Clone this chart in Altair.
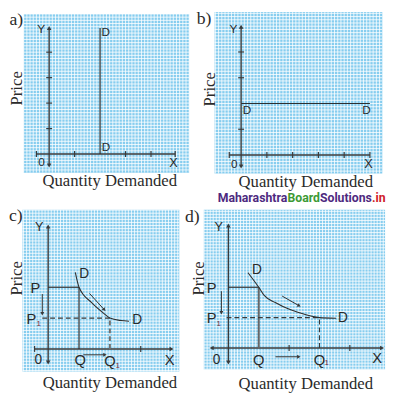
import math
import altair as alt
import numpy as np
import pandas as pd

# ---------------- colours / fonts ----------------
BG = "#86cdef"
AXC = "#3a3a3a"
TXT = "#2a2a2a"
SUBC = "#7a2840"
SANS = "Liberation Sans"
SERIF = "Liberation Serif"

# page frame of the drawing (page px), panel frames: origin (page px) and px per unit
PAGE = (8, 8, 398, 399)

# ---------------- panel a : perfectly inelastic ----------------
A_FRAME = (50, 153, 26.0)
A_PAPER = (-1.0, -0.73, 5.5, 5.5)
A_AXES = [(-0.5, 0, 4.95, 0), (0, -0.45, 0, 4.95)]
A_SOLID = [(2, 0, 2, 4.95)]
A_XTICKS = [-0.5, 1, 3, 4, 4.95]
A_YTICKS = [1, 2, 3, 4]
A_HEADS = [(0, 4.95, 0), (0, -0.45, 180)]
A_LABELS = [("Y", -0.31, 4.92, 12), ("X", 4.88, -0.35, 13), ("0", -0.3, -0.3, 12),
            ("D", 2.22, 4.77, 12), ("D", 2.23, 0.27, 12)]
A_CAPTION = [("a)", -1.29, 5.27), ("Price", -1.27, 2.58), ("Quantity Demanded", 2.38, -1.08)]

# ---------------- panel b : perfectly elastic ----------------
B_FRAME = (246, 154, 26.3)
B_PAPER = (-1.03, -0.72, 5.48, 5.55)
B_AXES = [(-0.46, 0, 5.0, 0), (0, -0.45, 0, 4.98)]
B_SOLID = [(0, 2, 5, 2)]
B_XTICKS = [-0.46, 1, 2, 3, 4, 5.0]
B_YTICKS = [1, 3, 4]
B_HEADS = [(0, 4.98, 0), (0, -0.45, 180)]
B_LABELS = [("Y", -0.3, 4.9, 12), ("X", 4.94, -0.34, 13), ("0", -0.27, -0.34, 12),
            ("D", 0.23, 1.75, 12), ("D", 4.87, 1.75, 12)]
B_CAPTION = [("b)", -1.44, 5.29), ("Price", -1.22, 2.55), ("Quantity Demanded", 2.51, -1.06)]
B_MARK_TEXT = ["Maharashtra", "Board", "Solutions", ".in"]
B_MARK_X = [-0.91, 1.80, 3.06, 5.08]
B_MARK_COLOR = ["#4e2a7f", "#3c9a34", "#4e2a7f", "#d0202a"]
B_MARK_Y = -1.66

# ---------------- panel c ----------------
C_FRAME = (49, 352, 31.5)
C_PAPER = (-0.83, -0.73, 4.25, 4.51)
C_AXES = [(-0.44, 0, 4.0, 0), (0, -0.44, 0, 3.97)]
C_SOLID = [(0, 2, 1, 2), (1, 0, 1, 2)]
C_DASHED = [(-0.19, 1, 2, 1)]
C_THICKDASH = [(2, 0, 2, 1)]
C_CURVE_X = [0.88, 1.0, 1.41, 1.83, 2.0, 2.36, 2.62]
C_CURVE_Y = [2.48, 2.0, 1.5, 1.13, 1.0, 0.92, 0.90]
C_XTICKS = [-0.44, 3]
C_HEADS = [(4.0, 0, 90), (0, 3.97, 0), (0, -0.44, 180)]
C_ARROWS = [(-0.19, 1.78, -0.19, 1.14), (1.14, -0.19, 1.84, -0.19), (1.34, 1.80, 1.82, 1.27)]
C_LABELS = [("Y", -0.29, 3.94, 13), ("P", -0.41, 1.97, 15), ("P", -0.54, 0.98, 15),
            ("D", 1.17, 2.44, 14), ("D", 2.89, 0.92, 14), ("0", -0.32, -0.35, 14),
            ("Q", 1.04, -0.35, 15), ("Q", 2.0, -0.38, 15), ("X", 3.94, -0.35, 15)]
C_SUBS = [("1", -0.31, 0.80), ("1", 2.25, -0.56)]
C_CAPTION = [("c)", -1.05, 4.29), ("Price", -1.02, 2.29), ("Quantity Demanded", 2.0, -1.11)]

# ---------------- panel d ----------------
D_FRAME = (233, 351, 31.0)
D_PAPER = (-0.81, -0.71, 5.16, 4.55)
D_AXES = [(-0.55, 0, 5.06, 0), (0, -0.48, 0, 4.03)]
D_SOLID = [(0, 2, 1, 2)]
D_THICK = [(1, 0, 1, 2)]
D_DASHED = [(-0.06, 1, 3, 1), (3, 0, 3, 1)]
D_CURVE_X = [0.645, 1.0, 1.18, 1.56, 1.99, 2.31, 3.0, 3.55]
D_CURVE_Y = [2.48, 2.0, 1.73, 1.49, 1.28, 1.17, 1.0, 0.98]
D_XTICKS = [2, 4]
D_HEADS = [(5.06, 0, 90), (-0.55, 0, 270), (0, 4.03, 0), (0, -0.48, 180)]
D_ARROWS = [(-0.23, 1.87, -0.23, 1.16), (1.55, -0.29, 2.32, -0.29), (1.77, 1.71, 2.33, 1.39)]
D_LABELS = [("Y", -0.32, 3.97, 13), ("P", -0.55, 1.97, 15), ("P", -0.55, 0.97, 15),
            ("D", 0.94, 2.55, 14), ("D", 3.77, 0.97, 14), ("0", -0.39, -0.39, 14),
            ("Q", 1.0, -0.39, 15), ("Q", 3.0, -0.39, 15), ("X", 4.9, -0.35, 15)]
D_SUBS = [("1", -0.32, 0.80), ("1", 3.24, -0.50)]
D_CAPTION = [("d)", -1.19, 4.32), ("Price", -0.97, 2.29), ("Quantity Demanded", 2.55, -1.19)]


def build(frame, paper, step, axes, solid=(), dashed=(), thick=(), thickdash=(), cx=(), cy=(),
          xticks=(), yticks=(), heads=(), arrows=(), labels=(), subs=(), caption=(), mark=None):
    ox, oy, unit = frame
    xs = alt.Scale(domain=[(PAGE[0] - ox) / unit, (PAGE[2] - ox) / unit], nice=False, zero=False)
    ys = alt.Scale(domain=[(oy - PAGE[3]) / unit, (oy - PAGE[1]) / unit], nice=False, zero=False)

    def X(f):
        return alt.X(f, type="quantitative", scale=xs, axis=None)

    def Y(f):
        return alt.Y(f, type="quantitative", scale=ys, axis=None)

    def segs(rows, color, width, dash=None, opacity=1.0):
        df = pd.DataFrame(list(rows), columns=["x", "y", "x2", "y2"])
        kw = dict(color=color, strokeWidth=width, opacity=opacity)
        if dash:
            kw["strokeDash"] = dash
        return alt.Chart(df).mark_rule(**kw).encode(x=X("x"), y=Y("y"), x2="x2", y2="y2")

    x0, y0, x1, y1 = paper
    paper_df = pd.DataFrame({"x": [x0], "y": [y0], "x2": [x1], "y2": [y1]})
    layers = [alt.Chart(paper_df).mark_rect(color=BG).encode(
        x=X("x"), y=Y("y"), x2="x2", y2="y2")]
    # fine graph-paper lines
    gl = []
    for v in np.arange(math.ceil(x0 / step) * step, x1 + 1e-9, step):
        gl.append((v, y0, v, y1))
    for v in np.arange(math.ceil(y0 / step) * step, y1 + 1e-9, step):
        gl.append((x0, v, x1, v))
    layers.append(segs(gl, "white", 1, opacity=0.8))

    layers.append(segs(axes, AXC, 1.4))
    if solid:
        layers.append(segs(solid, "#2e2e2e", 1.2))
    if thick:
        layers.append(segs(thick, "#666666", 2.0))
    if dashed:
        layers.append(segs(dashed, "#3a3a3a", 1.1, [5, 3]))
    if thickdash:
        layers.append(segs(thickdash, "#707070", 2.0, [5, 3]))
    if cx:
        cdf = pd.DataFrame({"x": cx, "y": cy})
        layers.append(alt.Chart(cdf).mark_line(interpolate="monotone", color="#2e2e2e",
                                                strokeWidth=1.1).encode(x=X("x"), y=Y("y")))
    if xticks:
        tdf = pd.DataFrame({"x": list(xticks), "y": [0] * len(xticks)})
        layers.append(alt.Chart(tdf).mark_tick(orient="vertical", size=6, thickness=1.2,
                                               color=AXC, opacity=1).encode(x=X("x"), y=Y("y")))
    if yticks:
        tdf = pd.DataFrame({"x": [0] * len(yticks), "y": list(yticks)})
        layers.append(alt.Chart(tdf).mark_tick(orient="horizontal", size=6, thickness=1.2,
                                               color=AXC, opacity=1).encode(x=X("x"), y=Y("y")))
    head_rows = [dict(x=a, y=b, ang=c, s=22) for a, b, c in heads]
    if arrows:
        layers.append(segs(arrows, "#2e2e2e", 1.0))
        for ax1, ay1, ax2, ay2 in arrows:
            ang = (math.degrees(math.atan2(ax2 - ax1, ay2 - ay1)) + 360) % 360
            head_rows.append(dict(x=ax2, y=ay2, ang=round(ang, 1), s=16))
    if head_rows:
        hdf = pd.DataFrame(head_rows)
        layers.append(alt.Chart(hdf).mark_point(shape="triangle-up", filled=True, color=AXC,
                                                opacity=1).encode(
            x=X("x"), y=Y("y"), angle=alt.Angle("ang:Q", scale=None),
            size=alt.Size("s:Q", scale=None)))
    ldf = pd.DataFrame(list(labels), columns=["t", "x", "y", "s"])
    layers.append(alt.Chart(ldf).mark_text(font=SANS, color=TXT).encode(
        x=X("x"), y=Y("y"), text="t:N", size=alt.Size("s:Q", scale=None)))
    if subs:
        sdf = pd.DataFrame(list(subs), columns=["t", "x", "y"])
        layers.append(alt.Chart(sdf).mark_text(font=SANS, color=SUBC, fontSize=8).encode(
            x=X("x"), y=Y("y"), text="t:N"))
    (let, lx, lyy), (pt, px, py), (qt, qx, qy) = caption
    layers.append(alt.Chart(pd.DataFrame({"t": [let], "x": [lx], "y": [lyy]})).mark_text(
        font=SERIF, fontSize=18, color=TXT).encode(x=X("x"), y=Y("y"), text="t:N"))
    layers.append(alt.Chart(pd.DataFrame({"t": [pt], "x": [px], "y": [py]})).mark_text(
        font=SERIF, fontSize=17, color=TXT, angle=270).encode(x=X("x"), y=Y("y"), text="t:N"))
    layers.append(alt.Chart(pd.DataFrame({"t": [qt], "x": [qx], "y": [qy]})).mark_text(
        font=SERIF, fontSize=17, color=TXT).encode(x=X("x"), y=Y("y"), text="t:N"))
    if mark is not None:
        texts, xsp, ysp, cols = mark
        mdf = pd.DataFrame({"t": texts, "x": xsp, "y": [ysp] * len(texts), "c": cols})
        layers.append(alt.Chart(mdf).mark_text(font="Roboto", fontWeight="bold", fontSize=12.5,
                                               align="left").encode(
            x=X("x"), y=Y("y"), text="t:N", color=alt.Color("c:N", scale=None)))
    return alt.layer(*layers)


pa = build(A_FRAME, A_PAPER, 0.125, A_AXES, solid=A_SOLID, xticks=A_XTICKS, yticks=A_YTICKS,
           heads=A_HEADS, labels=A_LABELS, caption=A_CAPTION)
pb = build(B_FRAME, B_PAPER, 0.125, B_AXES, solid=B_SOLID, xticks=B_XTICKS, yticks=B_YTICKS,
           heads=B_HEADS, labels=B_LABELS, caption=B_CAPTION,
           mark=(B_MARK_TEXT, B_MARK_X, B_MARK_Y, B_MARK_COLOR))
pc = build(C_FRAME, C_PAPER, 0.1, C_AXES, solid=C_SOLID, dashed=C_DASHED, thickdash=C_THICKDASH,
           cx=C_CURVE_X, cy=C_CURVE_Y, xticks=C_XTICKS, heads=C_HEADS, arrows=C_ARROWS,
           labels=C_LABELS, subs=C_SUBS, caption=C_CAPTION)
pd_ = build(D_FRAME, D_PAPER, 0.1, D_AXES, solid=D_SOLID, thick=D_THICK, dashed=D_DASHED,
            cx=D_CURVE_X, cy=D_CURVE_Y, xticks=D_XTICKS, heads=D_HEADS, arrows=D_ARROWS,
            labels=D_LABELS, subs=D_SUBS, caption=D_CAPTION)

chart = alt.layer(pa, pb, pc, pd_).resolve_scale(x="independent", y="independent").properties(
    width=PAGE[2] - PAGE[0], height=PAGE[3] - PAGE[1],
    autosize=alt.AutoSizeParams(type="none"), padding=0
).configure_view(strokeWidth=0)

chart.save("out.html", embed_options={"renderer": "svg", "actions": False})
